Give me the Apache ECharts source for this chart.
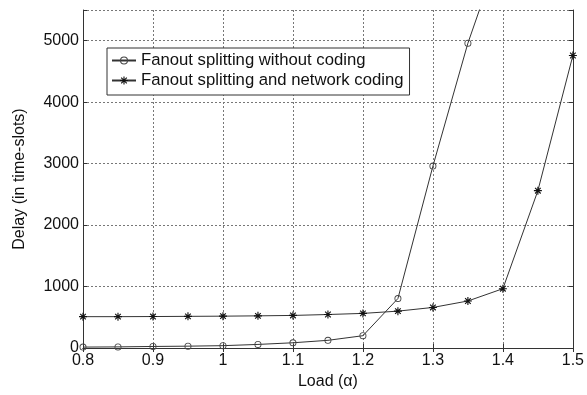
<!DOCTYPE html>
<html>
<head>
<meta charset="utf-8">
<script src="https://cdn.jsdelivr.net/npm/echarts@6/dist/echarts.min.js"></script>
<style>
html,body{margin:0;padding:0;background:#fff;}
#chart{width:587px;height:395px;}
</style>
</head>
<body>
<div id="chart"></div>
<script>
// Load values (x axis)
var loads = [0.8, 0.85, 0.9, 0.95, 1.0, 1.05, 1.1, 1.15, 1.2, 1.25, 1.3, 1.35, 1.4, 1.45, 1.5];
// Delay: fanout splitting without coding (last point leaves the plot)
var delayNoCoding = [15, 18, 25, 30, 38, 58, 85, 125, 200, 805, 2960, 4960, 6600];
// Delay: fanout splitting and network coding
var delayNetCoding = [510, 510, 512, 515, 518, 523, 530, 545, 563, 600, 660, 765, 965, 2560, 4760];
var seriesNames = ['Fanout splitting without coding', 'Fanout splitting and network coding'];
var xTitle = 'Load (\u03B1)';
var yTitle = 'Delay (in time-slots)';

function pairs(xs, ys) {
  var out = [];
  for (var i = 0; i < ys.length; i++) out.push([xs[i], ys[i]]);
  return out;
}

var FONT = 'Liberation Sans, Arial, sans-serif';
var asterisk = 'path://M-0.7,-5 L0.7,-5 L0.7,5 L-0.7,5 Z M-5,-0.7 L5,-0.7 L5,0.7 L-5,0.7 Z M-4.0,-3.0 L-3.0,-4.0 L4.0,3.0 L3.0,4.0 Z M3.0,-4.0 L4.0,-3.0 L-3.0,4.0 L-4.0,3.0 Z';
var ring = 'path://M0,-5 A5,5 0 1,1 0,5 A5,5 0 1,1 0,-5 Z M0,-3.7 A3.7,3.7 0 1,0 0,3.7 A3.7,3.7 0 1,0 0,-3.7 Z';

var chart = echarts.init(document.getElementById('chart'), null, {renderer: 'canvas'});
var axisLineStyle = {color: '#333', width: 1};
var tick = {show: true, inside: true, length: 4, lineStyle: {color: '#333'}};
chart.setOption({
  animation: false,
  backgroundColor: '#fff',
  grid: {left: 83, right: 11, top: 10, bottom: 44},
  legend: {
    left: 107, top: 48,
    orient: 'vertical',
    backgroundColor: '#fff',
    borderColor: '#333', borderWidth: 1,
    padding: [4, 6, 6, 4],
    itemGap: 3,
    itemWidth: 24, itemHeight: 10,
    textStyle: {fontFamily: FONT, fontSize: 16.7, color: '#111', lineHeight: 16, padding: [0,0,0,0]},
    data: seriesNames
  },
  xAxis: [{
    type: 'value', min: 0.8, max: 1.5, interval: 0.1,
    name: xTitle, nameLocation: 'middle', nameGap: 26,
    nameTextStyle: {fontFamily: FONT, fontSize: 16, color: '#111'},
    axisLine: {show: true, lineStyle: axisLineStyle},
    axisTick: tick,
    axisLabel: {fontFamily: FONT, fontSize: 16, color: '#111', margin: 5},
    splitLine: {show: true, lineStyle: {color: '#777', type: [2, 2], width: 1}}
  }, {
    type: 'value', min: 0.8, max: 1.5, interval: 0.1, position: 'top',
    axisLine: {show: true, lineStyle: axisLineStyle},
    axisTick: tick, axisLabel: {show: false}, splitLine: {show: false}
  }],
  yAxis: [{
    type: 'value', min: 0, max: 5500, interval: 1000,
    name: yTitle, nameLocation: 'middle', nameGap: 55,
    nameTextStyle: {fontFamily: FONT, fontSize: 16, color: '#111'},
    axisLine: {show: true, lineStyle: axisLineStyle},
    axisTick: tick,
    axisLabel: {fontFamily: FONT, fontSize: 16, color: '#111', margin: 4,
      formatter: function (v) { return v > 5000 ? '' : String(v); }},
    splitLine: {show: true, lineStyle: {color: '#777', type: [2, 2], width: 1}}
  }, {
    type: 'value', min: 0, max: 5500, interval: 1000, position: 'right',
    axisLine: {show: true, lineStyle: axisLineStyle},
    axisTick: tick, axisLabel: {show: false}, splitLine: {show: false}
  }],
  series: [{
    name: seriesNames[0], type: 'line', clip: true,
    data: pairs(loads, delayNoCoding),
    symbol: ring, symbolSize: 7, showAllSymbol: true,
    lineStyle: {color: '#333', width: 1},
    itemStyle: {color: '#444', borderWidth: 0}
  }, {
    name: seriesNames[1], type: 'line', clip: true,
    data: pairs(loads, delayNetCoding),
    symbol: asterisk, symbolSize: 8, showAllSymbol: true,
    lineStyle: {color: '#333', width: 1},
    itemStyle: {color: '#111', borderWidth: 0}
  }]
});
</script>
</body>
</html>
